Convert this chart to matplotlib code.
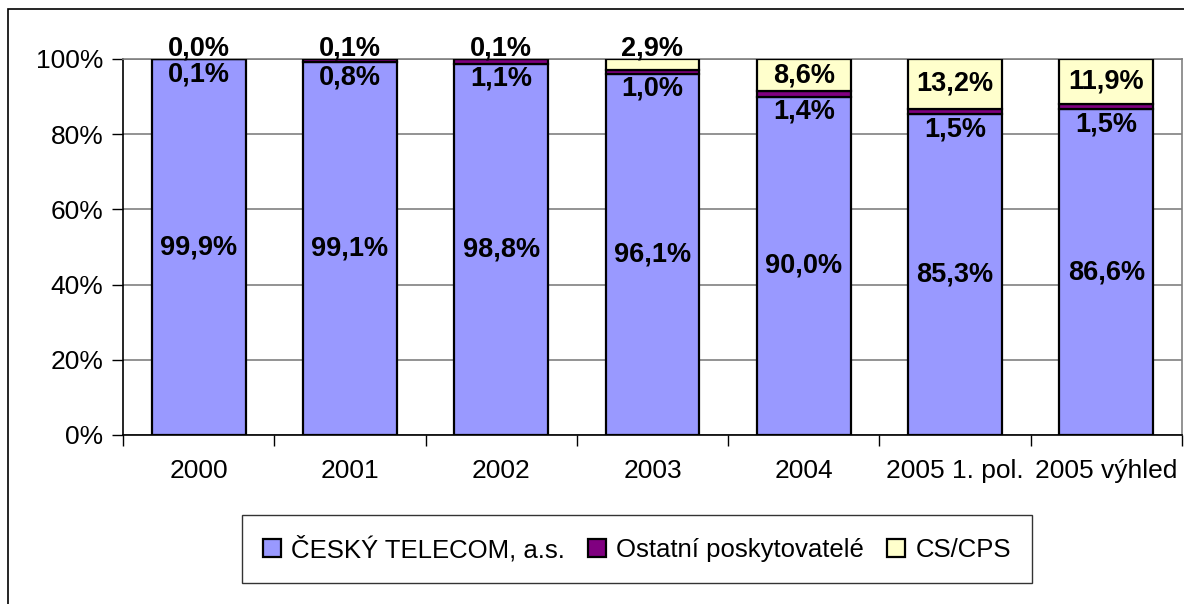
import numpy as np
import matplotlib.pyplot as plt
from matplotlib.patches import Rectangle

plt.rcParams['font.family'] = ['Liberation Sans', 'DejaVu Sans']

years = ['2000', '2001', '2002', '2003', '2004', '2005 1. pol.', '2005 výhled']
telecom = [99.9, 99.1, 98.8, 96.1, 90.0, 85.3, 86.6]
ostatni = [0.1, 0.8, 1.1, 1.0, 1.4, 1.5, 1.5]
cscps = [0.0, 0.1, 0.1, 2.9, 8.6, 13.2, 11.9]
series_names = ['ČESKÝ TELECOM, a.s.', 'Ostatní poskytovatelé', 'CS/CPS']
colors = ['#9999FF', '#800080', '#FFFFCC']

fig = plt.figure(figsize=(11.84, 6.04), dpi=100)
ax = fig.add_axes([123 / 1184, 1 - 435 / 604, 1059 / 1184, 376 / 604])

# outer chart border (right and bottom are cut off in the original)
fig.patches.append(Rectangle((8 / 1184, -0.05), 1.2, 1 - 9 / 604 + 0.05,
                             transform=fig.transFigure, fill=False,
                             edgecolor='black', linewidth=1.2))

x = np.arange(len(years))
w = 0.62
t = np.array(telecom)
o = np.array(ostatni)
c = np.array(cscps)

b1 = ax.bar(x, t, w, color=colors[0], edgecolor='black', linewidth=1.6, label=series_names[0], zorder=3)
b2 = ax.bar(x, o, w, bottom=t, color=colors[1], edgecolor='black', linewidth=1.6, label=series_names[1], zorder=3)
b3 = ax.bar(x, c, w, bottom=t + o, color=colors[2], edgecolor='black', linewidth=1.6, label=series_names[2], zorder=3)

def fmt(v):
    return ('%.1f%%' % v).replace('.', ',')

lab = dict(fontsize=19.5, fontweight='bold', ha='center', zorder=5)
for i in range(len(years)):
    ax.text(x[i], t[i] / 2, fmt(t[i]), va='center', **lab)
    ax.text(x[i], t[i] - 0.6, fmt(o[i]), va='top', **lab)
    if c[i] < 5:
        ax.text(x[i], 99.4, fmt(c[i]), va='bottom', **lab)
    else:
        ax.text(x[i], t[i] + o[i] + c[i] / 2, fmt(c[i]), va='center', **lab)

ax.set_xlim(-0.5, len(years) - 0.5)
ax.set_ylim(0, 100)
ax.set_yticks(np.arange(0, 101, 20))
ax.set_yticklabels(['%d%%' % v for v in range(0, 101, 20)], fontsize=19)
ax.yaxis.grid(True, color='#808080', linewidth=1.2, zorder=0)

ax.set_xticks(x)
ax.set_xticklabels(years, fontsize=19)
ax.tick_params(axis='x', length=0, pad=17)
ax.set_xticks(np.arange(-0.5, len(years)), minor=True)
ax.tick_params(axis='x', which='minor', length=8, width=1, direction='out')
ax.tick_params(axis='y', length=8, width=1, direction='out', pad=6)

for s in ['top', 'right']:
    ax.spines[s].set_color('#808080')
    ax.spines[s].set_linewidth(1.2)
ax.spines['left'].set_linewidth(1.2)
ax.spines['bottom'].set_linewidth(1.2)

leg = fig.legend(handles=[b1, b2, b3], loc='center',
                 bbox_to_anchor=(637 / 1184, 1 - 549 / 604), ncol=3,
                 fontsize=18.5, frameon=True, fancybox=False, edgecolor='black',
                 handlelength=0.7, handleheight=0.7, handletextpad=0.4,
                 columnspacing=0.9, borderpad=0.8)
leg.get_frame().set_linewidth(1.0)

fig.savefig('out.png', dpi=100)
